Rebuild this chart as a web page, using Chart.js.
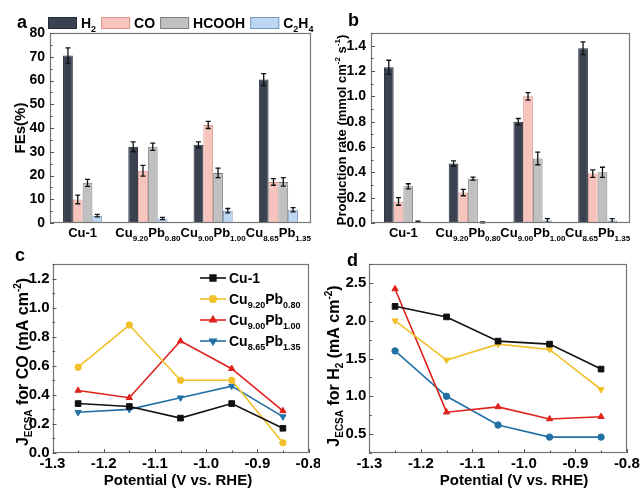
<!DOCTYPE html>
<html>
<head>
<meta charset="utf-8">
<script src="https://cdn.jsdelivr.net/npm/chart.js@4.4.1/dist/chart.umd.min.js"></script>
<style>
  html, body { margin: 0; padding: 0; background: #fff; }
  #wrap { position: relative; width: 640px; height: 488px; overflow: hidden; }
  canvas { position: absolute; }
</style>
</head>
<body>
<div id="wrap">
  <canvas id="fe" width="320" height="250" style="left:0;top:0"></canvas>
  <canvas id="rate" width="320" height="250" style="left:320px;top:0"></canvas>
  <canvas id="jco" width="320" height="238" style="left:0;top:250px"></canvas>
  <canvas id="jh2" width="320" height="238" style="left:320px;top:250px"></canvas>
</div>
<script>
// ---- data ----
const groups = ['Cu-1', 'Cu_{9.20}Pb_{0.80}', 'Cu_{9.00}Pb_{1.00}', 'Cu_{8.65}Pb_{1.35}'];
const products = ['H_{2}', 'CO', 'HCOOH', 'C_{2}H_{4}'];

// Faradaic efficiency (%)
const feH2 = [70.5, 32.1, 33.0, 60.4];
const feCO = [9.9, 22.0, 41.3, 17.3];
const feHCOOH = [16.9, 32.1, 21.1, 17.3];
const feC2H4 = [3.1, 1.9, 5.2, 5.6];
const feH2Err = [3.2, 2.1, 1.2, 2.5];
const feCOErr = [1.8, 2.3, 1.5, 1.4];
const feHCOOHErr = [1.5, 1.5, 2.0, 1.8];
const feC2H4Err = [0.5, 0.5, 0.9, 0.9];

// production rate (mmol cm-2 s-1)
const rateH2 = [1.23, 0.47, 0.80, 1.38];
const rateCO = [0.17, 0.24, 1.00, 0.39];
const rateHCOOH = [0.29, 0.35, 0.51, 0.40];
const rateC2H4 = [0.010, 0.005, 0.020, 0.020];
const rateH2Err = [0.055, 0.02, 0.025, 0.05];
const rateCOErr = [0.03, 0.025, 0.03, 0.03];
const rateHCOOHErr = [0.02, 0.012, 0.05, 0.04];
const rateC2H4Err = [0.004, 0.003, 0.015, 0.015];

// J_ECSA vs potential
const potentials = [-1.25, -1.15, -1.05, -0.95, -0.85];
const jcoCu1 = [0.34, 0.32, 0.24, 0.34, 0.17];
const jco920 = [0.59, 0.88, 0.50, 0.50, 0.07];
const jco900 = [0.43, 0.38, 0.77, 0.58, 0.29];
const jco865 = [0.28, 0.30, 0.38, 0.46, 0.25];
const jh2Cu1 = [2.19, 2.05, 1.73, 1.69, 1.36];
const jh2920 = [2.00, 1.48, 1.69, 1.62, 1.09];
const jh2900 = [2.42, 0.79, 0.86, 0.70, 0.73];
const jh2865 = [1.60, 1.00, 0.62, 0.46, 0.46];

// ---- styles ----
const FONT = '"Liberation Sans", Arial, Helvetica, sans-serif';
Chart.defaults.font.family = FONT;
Chart.defaults.font.weight = 'bold';
Chart.defaults.color = '#000';
Chart.defaults.animation = false;

const barFill = ['#3a4252', '#f6c4bc', '#c0c0c0', '#bdd6f1'];
const barEdge = ['#262c38', '#d8968c', '#7f7f7f', '#7896bd'];
const lineColor = ['#111111', '#f2c029', '#e0221d', '#2370a6'];

// text with _{sub} and ^{sup}
function parts(s) {
  const out = [];
  const re = /([_^])\{([^}]*)\}|([^_^]+)/g;
  let m;
  while ((m = re.exec(s))) {
    if (m[3]) out.push({ t: m[3], k: '' });
    else out.push({ t: m[2], k: m[1] });
  }
  return out;
}
function drawRich(ctx, s, x, y, size, align) {
  const ps = parts(s);
  let w = 0;
  ps.forEach(p => {
    p.f = 'bold ' + (p.k ? Math.round(size * 0.62) : size) + 'px ' + FONT;
    ctx.font = p.f;
    p.w = ctx.measureText(p.t).width;
    w += p.w;
  });
  let cx = align === 'center' ? x - w / 2 : align === 'right' ? x - w : x;
  ctx.textAlign = 'left';
  ctx.textBaseline = 'alphabetic';
  ctx.fillStyle = '#000';
  ps.forEach(p => {
    ctx.font = p.f;
    const dy = p.k === '_' ? size * 0.28 : p.k === '^' ? -size * 0.42 : 0;
    ctx.fillText(p.t, cx, y + dy);
    cx += p.w;
  });
  return w;
}

function fixedAxis(size) {
  return function (scale) {
    if (scale.isHorizontal()) scale.height = size; else scale.width = size;
    scale.paddingLeft = scale.paddingRight = scale.paddingTop = scale.paddingBottom = 0;
  };
}
function everyLabel(stepLabel, digits) {
  return function (v) {
    const r = Math.round(v * 1000) / 1000;
    const k = r / stepLabel;
    return Math.abs(k - Math.round(k)) < 1e-6 ? r.toFixed(digits) : '';
  };
}

const deco = {
  id: 'deco',
  afterDatasetsDraw(chart) {
    const ctx = chart.ctx;
    ctx.save();
    ctx.strokeStyle = '#111';
    ctx.lineWidth = 1.3;
    chart.data.datasets.forEach((ds, di) => {
      if (!ds.errors) return;
      const meta = chart.getDatasetMeta(di);
      const ys = chart.scales[meta.yAxisID];
      meta.data.forEach((bar, i) => {
        const y1 = ys.getPixelForValue(ds.data[i] + ds.errors[i]);
        const y2 = ys.getPixelForValue(Math.max(ds.data[i] - ds.errors[i], 0));
        ctx.beginPath();
        ctx.moveTo(bar.x, y1); ctx.lineTo(bar.x, y2);
        ctx.moveTo(bar.x - 2.5, y1); ctx.lineTo(bar.x + 2.5, y1);
        ctx.moveTo(bar.x - 2.5, y2); ctx.lineTo(bar.x + 2.5, y2);
        ctx.stroke();
      });
    });
    ctx.restore();
  },
  afterDraw(chart, args, o) {
    const ctx = chart.ctx, a = chart.chartArea;
    const xs = chart.scales.x, ys = chart.scales.y;
    ctx.save();
    // frame
    ctx.strokeStyle = '#777';
    ctx.lineWidth = 1.2;
    ctx.strokeRect(Math.round(a.left) + 0.5, Math.round(a.top) + 0.5,
      Math.round(a.right - a.left) - 1, Math.round(a.bottom - a.top) - 1);
    // inward ticks
    ctx.strokeStyle = '#555';
    ctx.lineWidth = 1;
    ctx.beginPath();
    ys.ticks.forEach(t => {
      const p = Math.round(ys.getPixelForValue(t.value)) + 0.5;
      const len = t.label !== '' ? 4 : 2.5;
      ctx.moveTo(a.left, p); ctx.lineTo(a.left + len, p);
    });
    if (xs.type === 'linear') {
      xs.ticks.forEach(t => {
        const p = Math.round(xs.getPixelForValue(t.value)) + 0.5;
        const len = t.label !== '' ? 4 : 2.5;
        ctx.moveTo(p, a.bottom); ctx.lineTo(p, a.bottom - len);
      });
    }
    ctx.stroke();
    // category labels
    if (xs.type === 'category') {
      chart.data.labels.forEach((lab, i) => {
        drawRich(ctx, lab, xs.getPixelForTick(i), a.bottom + o.catY, 13, 'center');
      });
    }
    // panel letter
    ctx.font = 'bold 18px ' + FONT;
    ctx.fillStyle = '#000';
    ctx.textAlign = 'left';
    ctx.fillText(o.panel[0], o.panel[1], o.panel[2]);
    // y title
    ctx.save();
    ctx.translate(o.yTitle[1], o.yTitle[2]);
    ctx.rotate(-Math.PI / 2);
    drawRich(ctx, o.yTitle[0], 0, o.yTitle[3] * 0.36, o.yTitle[3], 'center');
    ctx.restore();
    // x title
    if (o.xTitle) drawRich(ctx, o.xTitle[0], o.xTitle[1], o.xTitle[2], o.xTitle[3], 'center');
    // bar legend
    if (o.barLegend) {
      let x = o.barLegend[0];
      const y = o.barLegend[1];
      chart.data.datasets.forEach(ds => {
        ctx.fillStyle = ds.backgroundColor;
        ctx.fillRect(x, y, 29, 12);
        ctx.strokeStyle = ds.borderColor;
        ctx.lineWidth = 1;
        ctx.strokeRect(x + 0.5, y + 0.5, 28, 11);
        x += 33;
        x += drawRich(ctx, ds.label, x, y + 11, 14, 'left') + 5;
      });
    }
    // line legend
    if (o.lineLegend) {
      const [lx, ly, step] = o.lineLegend;
      chart.data.datasets.forEach((ds, i) => {
        const y = ly + i * step;
        ctx.strokeStyle = ds.borderColor;
        ctx.lineWidth = ds.borderWidth;
        ctx.beginPath();
        ctx.moveTo(lx, y); ctx.lineTo(lx + 26, y);
        ctx.stroke();
        ctx.fillStyle = ds.backgroundColor;
        Chart.helpers.drawPoint(ctx, {
          pointStyle: ds.pointStyle, radius: ds.pointRadius,
          rotation: ds.pointRotation || 0, borderWidth: 1
        }, lx + 13, y);
        drawRich(ctx, ds.label, lx + 29, y + 5, 14, 'left');
      });
    }
    ctx.restore();
  }
};

function barChart(id, series, errors, yMin, yMax, yStep, yLabelStep, digits, padRight, yWidth, decoOpts) {
  return new Chart(document.getElementById(id), {
    type: 'bar',
    data: {
      labels: groups,
      datasets: series.map((s, i) => ({
        label: products[i],
        data: s,
        errors: errors[i],
        backgroundColor: barFill[i],
        borderColor: barEdge[i],
        borderWidth: 1,
        categoryPercentage: 0.6,
        barPercentage: 1.0
      }))
    },
    options: {
      responsive: false,
      layout: { padding: { left: 0, right: padRight, top: 33, bottom: 0 } },
      plugins: { legend: { display: false }, tooltip: { enabled: false }, deco: decoOpts },
      scales: {
        x: {
          grid: { display: false, drawTicks: false },
          border: { display: false },
          ticks: { display: false },
          afterFit: fixedAxis(27)
        },
        y: {
          min: yMin, max: yMax,
          grid: { display: false, drawTicks: false },
          border: { display: false },
          ticks: {
            stepSize: yStep, includeBounds: false, autoSkip: false, padding: 5,
            font: { size: 14, weight: 'bold' },
            callback: everyLabel(yLabelStep, digits)
          },
          afterFit: fixedAxis(yWidth)
        }
      }
    },
    plugins: [deco]
  });
}

function lineChart(id, series, styles, rot, radii, yMin, yMax, yStep, yLabelStep, padRight, yWidth, decoOpts) {
  return new Chart(document.getElementById(id), {
    type: 'line',
    data: {
      datasets: series.map((s, i) => ({
        label: groups[i],
        data: potentials.map((p, j) => ({ x: p, y: s[j] })),
        borderColor: lineColor[i],
        backgroundColor: lineColor[i],
        borderWidth: 1.6,
        pointStyle: styles[i],
        pointRotation: rot[i],
        pointRadius: radii[i],
        pointBorderWidth: 1,
        tension: 0
      }))
    },
    options: {
      responsive: false,
      layout: { padding: { left: 0, right: padRight, top: 14, bottom: 0 } },
      plugins: { legend: { display: false }, tooltip: { enabled: false }, deco: decoOpts },
      scales: {
        x: {
          type: 'linear', min: -1.3, max: -0.8,
          grid: { display: false, drawTicks: false },
          border: { display: false },
          ticks: {
            stepSize: 0.05, autoSkip: false, maxRotation: 0, padding: 2,
            font: { size: 15, weight: 'bold' },
            callback: everyLabel(0.1, 1)
          },
          afterFit: fixedAxis(35)
        },
        y: {
          min: yMin, max: yMax,
          grid: { display: false, drawTicks: false },
          border: { display: false },
          ticks: {
            stepSize: yStep, autoSkip: false, padding: 3,
            font: { size: 15, weight: 'bold' },
            callback: everyLabel(yLabelStep, 1)
          },
          afterFit: fixedAxis(yWidth)
        }
      }
    },
    plugins: [deco]
  });
}

barChart('fe',
  [feH2, feCO, feHCOOH, feC2H4],
  [feH2Err, feCOErr, feHCOOHErr, feC2H4Err],
  0, 80, 5, 10, 0, 9, 50,
  { panel: ['a', 17, 28], yTitle: ['FEs(%)', 20, 128, 15], catY: 14, barLegend: [48, 17] });

barChart('rate',
  [rateH2, rateCO, rateHCOOH, rateC2H4],
  [rateH2Err, rateCOErr, rateHCOOHErr, rateC2H4Err],
  0, 1.5, 0.1, 0.2, 1, 10, 51,
  { panel: ['b', 28, 26], yTitle: ['Production rate (mmol cm^{-2} s^{-1})', 21, 130, 13], catY: 14 });

lineChart('jco',
  [jcoCu1, jco920, jco900, jco865],
  ['rect', 'circle', 'triangle', 'triangle'], [0, 0, 0, 180], [4, 3.2, 3.6, 3.6],
  0, 1.3, 0.1, 0.2, 11.5, 52.5,
  { panel: ['c', 15, 11], yTitle: ['J_{ECSA} for CO (mA cm^{-2})', 22, 112, 16],
    xTitle: ['Potential (V vs. RHE)', 178, 235, 15], lineLegend: [200, 28, 21] });

lineChart('jh2',
  [jh2Cu1, jh2920, jh2900, jh2865],
  ['rect', 'triangle', 'triangle', 'circle'], [0, 180, 0, 0], [4, 3.6, 3.6, 3.2],
  0.25, 2.75, 0.25, 0.5, 13.2, 49.3,
  { panel: ['d', 27, 16], yTitle: ['J_{ECSA} for H_{2} (mA cm^{-2})', 13, 116, 16],
    xTitle: ['Potential (V vs. RHE)', 194, 235, 15] });
</script>
</body>
</html>
